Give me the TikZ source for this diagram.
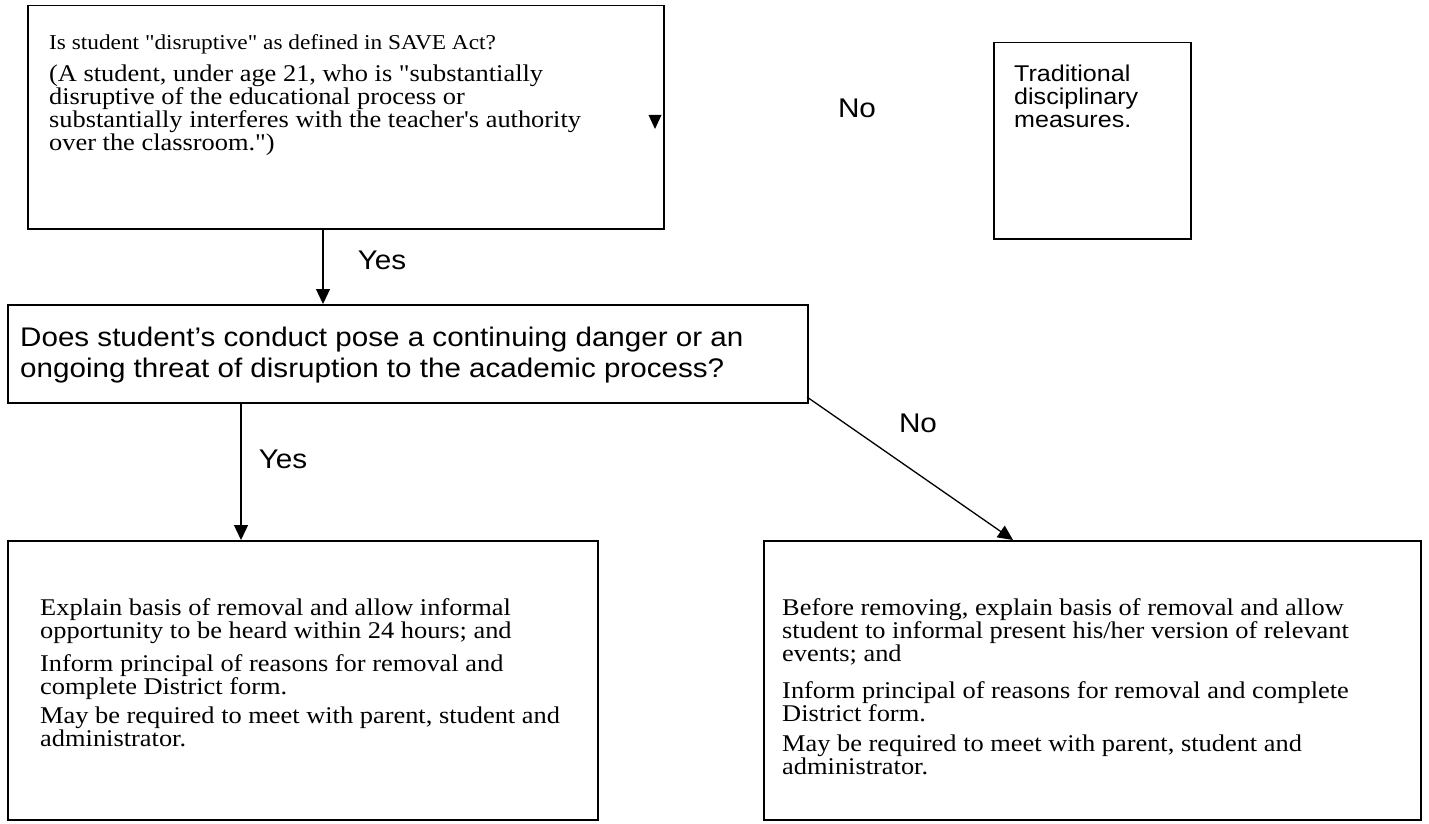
\documentclass[tikz,border=0pt]{standalone}
\usepackage{fontspec}
\newfontfamily\tms[FakeStretch=1.1]{Liberation Serif}
\newfontfamily\arial[FakeStretch=1.1]{Liberation Sans}
\usetikzlibrary{arrows.meta}
\tikzset{
  box/.style={draw, line width=1.5pt, anchor=north west, inner sep=0pt},
  txt/.style={anchor=north west, align=left, inner sep=0pt, execute at begin node={\strut}},
  tmsbody/.style={txt, font=\tms\fontsize{24}{23}\selectfont},
  tmshead/.style={txt, font=\tms\fontsize{21.2}{23}\selectfont},
  aribig/.style={txt, font=\arial\fontsize{26.9}{31}\selectfont},
  arismall/.style={txt, font=\arial\fontsize{22.8}{23}\selectfont},
  lbl/.style={anchor=center, inner sep=0pt, font=\arial\fontsize{27}{30}\selectfont},
  arr/.style={line width=1.3pt, -{Triangle[length=15pt,width=14pt]}}
}
\begin{document}
\begin{tikzpicture}[x=1pt,y=-1pt]
\useasboundingbox (0,0) rectangle (1429,824);
% boxes
\node[box, minimum width=636pt, minimum height=223pt] (b1) at (27,5) {};
\node[box, minimum width=197pt, minimum height=196pt] (bt) at (993,42) {};
\node[box, minimum width=800pt, minimum height=98pt] (b2) at (7,304) {};
\node[box, minimum width=590pt, minimum height=279pt] (b3) at (7,540) {};
\node[box, minimum width=657pt, minimum height=279pt] (b4) at (763,540) {};
% texts (north = first baseline - 0.7*baselineskip)
\node[tmshead] (t1a) at (49,33) {Is student "disruptive" as defined in SAVE Act?};
\node[tmsbody] (t1b) at (49,65) {(A student, under age 21, who is "substantially\\disruptive of the educational process or\\substantially interferes with the teacher's authority\\over the classroom.")};
\node[arismall] (tt) at (1014,65) {Traditional\\disciplinary\\measures.};
\node[aribig] (t2) at (20,327) {Does student’s conduct pose a continuing danger or an\\ongoing threat of disruption to the academic process?};
\node[tmsbody] (t3a) at (40,598) {Explain basis of removal and allow informal\\opportunity to be heard within 24 hours; and};
\node[tmsbody] (t3b) at (40,654) {Inform principal of reasons for removal and\\complete District form.};
\node[tmsbody] (t3c) at (40,707) {May be required to meet with parent, student and\\administrator.};
\node[tmsbody] (t4a) at (782,598) {Before removing, explain basis of removal and allow\\student to informal present his/her version of relevant\\events; and};
\node[tmsbody] (t4b) at (782,681) {Inform principal of reasons for removal and complete\\District form.};
\node[tmsbody] (t4c) at (782,735) {May be required to meet with parent, student and\\administrator.};
% labels
\node[lbl] (no1) at (857,108) {No};
\node[lbl] (yes1) at (382,260) {Yes};
\node[lbl] (yes2) at (283,459) {Yes};
\node[lbl] (no2) at (918,423) {No};
% connectors
\coordinate (cx1) at (323,0);
\coordinate (cx2) at (241,0);
\coordinate (dstart) at (807,397);
\coordinate (dend) at (1013,540);
\draw[arr] (b1.south -| cx1) -- (b2.north -| cx1);
\draw[arr] (b2.south -| cx2) -- (b3.north -| cx2);
\draw[arr] (dstart) -- (dend);
% lone arrowhead
\coordinate (ah) at (655,129);
\fill (ah) -- ++(-6.5,-14) -- ++(13,0) -- cycle;
\end{tikzpicture}
\end{document}
